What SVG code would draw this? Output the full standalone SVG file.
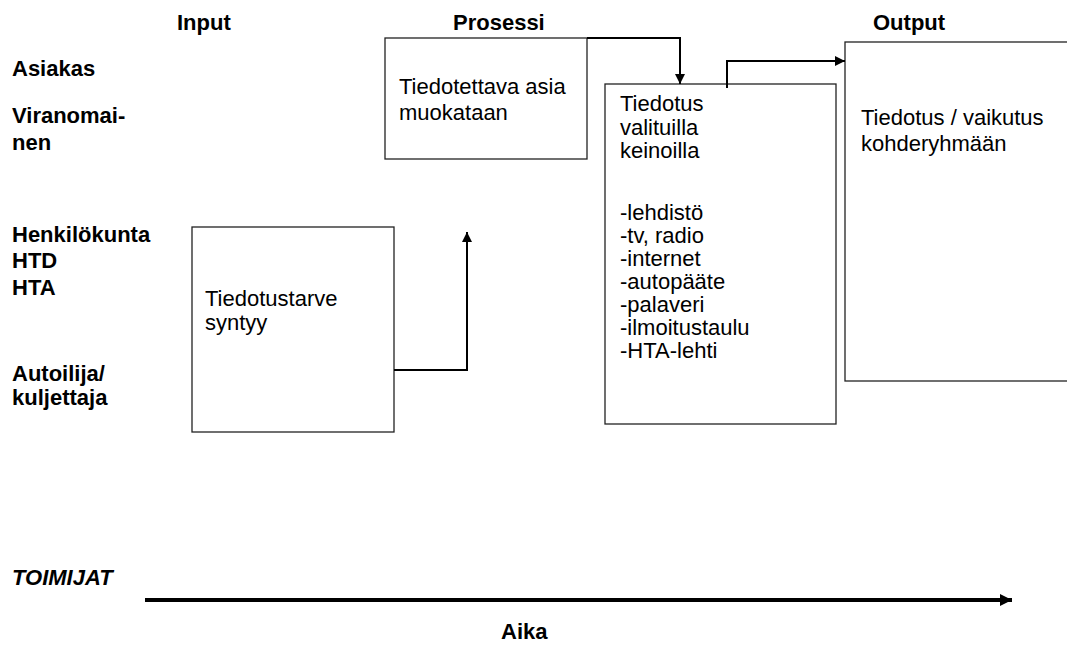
<svg xmlns="http://www.w3.org/2000/svg" width="1067" height="645" viewBox="0 0 1067 645">
  <style>
    .lbl { font-family: "Liberation Sans", Arial, sans-serif; font-size: 22px; fill: #000; }
    .b { font-weight: bold; }
    .box { fill: #fff; stroke: #222; stroke-width: 1.3; }
    .conn { fill: none; stroke: #000; stroke-width: 2; }
  </style>
  <defs>
    <marker id="arrow" viewBox="0 0 10 10" refX="10" refY="5" markerWidth="5" markerHeight="5" markerUnits="strokeWidth" orient="auto">
      <path d="M0,0 L10,5 L0,10 z" fill="#000"/>
    </marker>
    <marker id="arrowTime" viewBox="0 0 10 10" refX="10" refY="5" markerWidth="3" markerHeight="3" markerUnits="strokeWidth" orient="auto">
      <path d="M0,0 L10,5 L0,10 z" fill="#000"/>
    </marker>
  </defs>

  <rect width="1067" height="645" fill="#fff"/>

  <!-- column headings -->
  <g id="headings">
    <text class="lbl b" x="177" y="30">Input</text>
    <text class="lbl b" x="453" y="30">Prosessi</text>
    <text class="lbl b" x="873" y="30">Output</text>
  </g>

  <!-- actors down the left side -->
  <g id="actors">
    <text class="lbl b" x="12" y="76">Asiakas</text>
    <text class="lbl b" x="12" y="123">Viranomai-</text>
    <text class="lbl b" x="12" y="150">nen</text>
    <text class="lbl b" x="12" y="242">Henkilökunta</text>
    <text class="lbl b" x="12" y="268">HTD</text>
    <text class="lbl b" x="12" y="295">HTA</text>
    <text class="lbl b" x="12" y="381">Autoilija/</text>
    <text class="lbl b" x="12" y="405">kuljettaja</text>
    <text class="lbl b" x="12" y="585" font-style="italic">TOIMIJAT</text>
  </g>

  <g id="node-need">
    <rect class="box" x="192" y="227" width="202" height="205"/>
    <text class="lbl" x="205" y="306">Tiedotustarve</text>
    <text class="lbl" x="205" y="330">syntyy</text>
  </g>

  <g id="node-edit">
    <rect class="box" x="385" y="38" width="202" height="121"/>
    <text class="lbl" x="399" y="94">Tiedotettava asia</text>
    <text class="lbl" x="399" y="120">muokataan</text>
  </g>

  <g id="node-channels">
    <rect class="box" x="605" y="84" width="231" height="340"/>
    <text class="lbl" x="620" y="111">Tiedotus</text>
    <text class="lbl" x="620" y="135">valituilla</text>
    <text class="lbl" x="620" y="158">keinoilla</text>
    <text class="lbl" x="620" y="220">-lehdistö</text>
    <text class="lbl" x="620" y="243">-tv, radio</text>
    <text class="lbl" x="620" y="266">-internet</text>
    <text class="lbl" x="620" y="289">-autopääte</text>
    <text class="lbl" x="620" y="312">-palaveri</text>
    <text class="lbl" x="620" y="335">-ilmoitustaulu</text>
    <text class="lbl" x="620" y="358">-HTA-lehti</text>
  </g>

  <g id="node-effect">
    <rect class="box" x="845" y="42" width="300" height="339"/>
    <text class="lbl" x="861" y="125">Tiedotus / vaikutus</text>
    <text class="lbl" x="861" y="151">kohderyhmään</text>
  </g>

  <g id="connectors">
    <path class="conn" d="M394,370 H467 V232" marker-end="url(#arrow)"/>
    <path class="conn" d="M587,38 H680 V84" marker-end="url(#arrow)"/>
    <path class="conn" d="M727,88 V61 H845" marker-end="url(#arrow)"/>
  </g>

  <!-- time axis -->
  <g id="timeline">
    <line x1="145" y1="600" x2="1012" y2="600" stroke="#000" stroke-width="4" marker-end="url(#arrowTime)"/>
    <text class="lbl b" x="501" y="639">Aika</text>
  </g>
</svg>
